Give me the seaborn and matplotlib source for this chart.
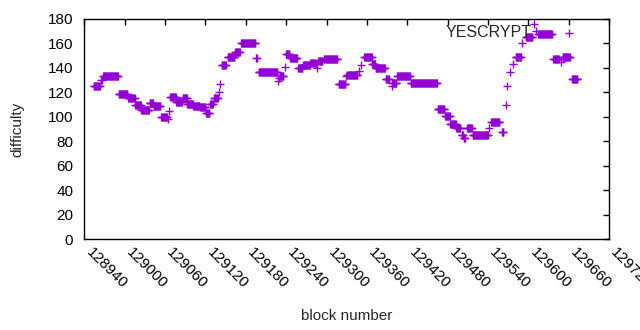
import matplotlib
matplotlib.use('Agg')
import matplotlib.pyplot as plt
import matplotlib.transforms as mtransforms
import numpy as np
import pandas as pd
import seaborn as sns

# Difficulty held constant over runs of consecutive blocks (start, end, value)
run_start = [128954, 128965, 128968, 128991, 129005, 129016, 129025, 129037,
             129043, 129054, 129064, 129066, 129068, 129077, 129086, 129093,
             129102, 129112, 129121, 129127, 129133, 129140, 129142, 129144,
             129153, 129164, 129173, 129195, 129199, 129228, 129230, 129231,
             129239, 129240, 129246, 129258, 129265, 129276, 129286, 129288,
             129296, 129318, 129329, 129331, 129349, 129351, 129356, 129368,
             129373, 129388, 129397, 129398, 129405, 129425, 129465, 129476,
             129484, 129493, 129501, 129504, 129509, 129517, 129542, 129545,
             129561, 129567, 129569, 129572, 129577, 129581, 129591, 129596,
             129609, 129612, 129615, 129637, 129648, 129651, 129665]
run_end = [128963, 128966, 128990, 129004, 129015, 129024, 129036, 129042,
           129053, 129063, 129064, 129066, 129076, 129085, 129092, 129101,
           129111, 129120, 129126, 129131, 129138, 129140, 129142, 129150,
           129163, 129171, 129194, 129196, 129227, 129228, 129230, 129236,
           129239, 129245, 129256, 129264, 129275, 129284, 129286, 129294,
           129316, 129328, 129329, 129346, 129349, 129351, 129367, 129372,
           129387, 129393, 129397, 129404, 129424, 129464, 129475, 129483,
           129492, 129499, 129503, 129506, 129516, 129540, 129542, 129557,
           129563, 129567, 129569, 129572, 129577, 129589, 129591, 129606,
           129609, 129612, 129635, 129645, 129648, 129662, 129673]
run_value = [125, 130, 133, 119, 115, 110, 105.5, 111,
             109, 100, 98, 105, 116, 112, 115.5, 110.5,
             109, 108, 103, 110.5, 115, 120, 127, 142,
             149, 153, 160, 148, 137, 129, 131.5, 133,
             141, 151, 148, 140, 142, 144, 139.5, 146,
             147, 127, 133, 134, 137.5, 142, 149, 143,
             140, 131, 125, 127.5, 133, 128, 106.5, 101,
             94, 91, 85.5, 83, 91, 85, 91, 96,
             87.5, 109.5, 125, 137, 143, 149, 160, 165,
             175.5, 170, 167.5, 147, 145, 149, 131]

blocks = np.concatenate([np.arange(s, e + 1) for s, e in zip(run_start, run_end)])
difficulty = np.concatenate([np.full(e - s + 1, v) for s, e, v in zip(run_start, run_end, run_value)])
df = pd.DataFrame({'block': blocks, 'difficulty': difficulty})

x_ticks = list(range(128940, 129721, 60))
y_ticks = list(range(0, 181, 20))

sns.set_style('white')
plt.rcParams['font.family'] = ['Liberation Sans', 'DejaVu Sans']

fig = plt.figure(figsize=(6.4, 3.3), dpi=100)
ax = fig.add_axes([0.1317, 0.2748, 0.82, 0.668])

sns.scatterplot(data=df, x='block', y='difficulty', marker='+', s=30,
                color='#9400D3', linewidth=1, label='YESCRYPT', ax=ax)

ax.set_xlim(128940, 129720)
ax.set_ylim(0, 180)
ax.set_xticks(x_ticks)
ax.set_yticks(y_ticks)
ax.set_xticklabels([str(t) for t in x_ticks], rotation=-45, ha='left', va='top',
                   rotation_mode='anchor')
ax.tick_params(direction='in', length=4, width=1, top=True, right=True,
               labelsize=11, colors='black')
ax.tick_params(axis='y', pad=8)
ax.tick_params(axis='x', pad=4)
# nudge rotated tick labels to the right like gnuplot does
shift = mtransforms.ScaledTranslation(0.09, 0, fig.dpi_scale_trans)
for lab in ax.get_xticklabels():
    lab.set_transform(lab.get_transform() + shift)
for sp in ax.spines.values():
    sp.set_color('black')
    sp.set_linewidth(1)

ax.set_xlabel('block number', fontsize=11)
ax.set_ylabel('difficulty', fontsize=11)
ax.xaxis.set_label_coords(0.5, -0.35)
ax.xaxis.label.set_va('center')
ax.yaxis.set_label_coords(-0.128, 0.5)
ax.yaxis.label.set_va('center')

leg = ax.legend(loc='upper right', bbox_to_anchor=(0.984, 0.972), frameon=False,
                markerfirst=False, handlelength=4, handletextpad=0.3,
                borderpad=0, borderaxespad=0, fontsize=11.5)

fig.savefig('out.png', dpi=100)
